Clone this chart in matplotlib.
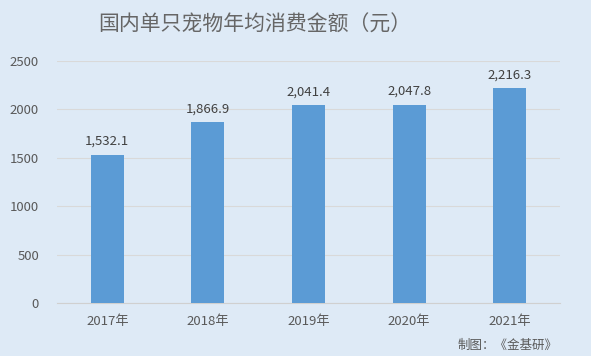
import matplotlib
matplotlib.use("Agg")
import matplotlib.pyplot as plt

plt.rcParams['font.family'] = ['Noto Sans CJK SC', 'DejaVu Sans']

years = ["2017年", "2018年", "2019年", "2020年", "2021年"]
values = [1532.1, 1866.9, 2041.4, 2047.8, 2216.3]
yticks = [0, 500, 1000, 1500, 2000, 2500]

bg = "#DEEAF6"
fig = plt.figure(figsize=(5.91, 3.56), dpi=100, facecolor=bg)
ax = fig.add_axes([57/591, 1-303/356, (560-57)/591, (303-61)/356])
ax.set_facecolor(bg)

x = range(len(years))
ax.bar(x, values, width=0.33, color="#5B9BD5", zorder=3)
for i, v in zip(x, values):
    ax.text(i, v + 70, f"{v:,.1f}", ha="center", va="bottom", fontsize=9.5, color="#404040")

ax.set_xlim(-0.5, len(years) - 0.5)
ax.set_ylim(0, 2500)
ax.set_yticks(yticks)
ax.set_yticklabels([str(t) for t in yticks])
ax.set_xticks(list(x))
ax.set_xticklabels(years)
ax.tick_params(axis="both", length=0, labelsize=9.5, labelcolor="#595959")
ax.tick_params(axis="y", pad=13)
ax.tick_params(axis="x", pad=9)
ax.grid(axis="y", color="#D9D9D9", linewidth=0.8, zorder=0)
for s in ["top", "right", "left"]:
    ax.spines[s].set_visible(False)
ax.spines["bottom"].set_color("#D0D0D0")

fig.text(255/591, 1-25/356, "国内单只宠物年均消费金额（元）", ha="center", va="center",
         fontsize=15, color="#666666")
fig.text(558/591, 1-345/356, "制图：《金基研》", ha="right", va="center",
         fontsize=9, color="#595959")

fig.savefig("out.png", dpi=100, facecolor=bg)
